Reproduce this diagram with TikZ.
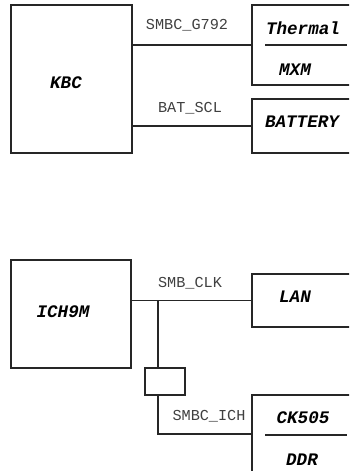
\documentclass[tikz,border=0pt]{standalone}
\usepackage{fontspec}
\setmonofont{Liberation Mono}
\usetikzlibrary{calc}

\tikzset{
  blk/.style={draw=black!85, line width=0.6pt, inner sep=0pt},
  sig/.style={font=\ttfamily\fontsize{7.6}{9}\selectfont, text=black!75, inner sep=0pt},
  lbl/.style={font=\ttfamily\bfseries\itshape\fontsize{8.8}{10}\selectfont, inner sep=0pt},
}

\begin{document}
\begin{tikzpicture}[x=0.5pt, y=-0.5pt, line width=0.6pt, draw=black!85]
  \useasboundingbox (0,0) rectangle (349,471);
  \clip (0,0) rectangle (349,471);
  % bloques superiores
  \node[blk, minimum width=60.5pt, minimum height=74pt] (kbc) at (71.5,79) {};
  \node[blk, minimum width=54pt, minimum height=40pt] (thermal) at (306,45) {};
  \node[blk, minimum width=54pt, minimum height=27pt] (battery) at (306,126) {};
  % bloques inferiores
  \node[blk, minimum width=60pt, minimum height=54pt] (ich) at (71,314) {};
  \node[blk, minimum width=54pt, minimum height=26.5pt] (lan) at (306,300.5) {};
  \node[blk, minimum width=20pt, minimum height=13.5pt] (sw) at (165,381.5) {};
  \node[blk, minimum width=54pt, minimum height=42.5pt] (ck) at (306,437.5) {};
  % textos de los bloques
  \node[lbl] (tkbc) at (66,83) {KBC};
  \node[lbl] (tthermal) at (303,28) {Thermal};
  \node[lbl] (tmxm) at (295,70) {MXM};
  \node[lbl] (tbattery) at (302,122) {BATTERY};
  \node[lbl] (tich) at (63,312) {ICH9M};
  \node[lbl] (tlan) at (295,297) {LAN};
  \node[lbl] (tck) at (303,418) {CK505};
  \node[lbl] (tddr) at (302,460) {DDR};
  % divisiones
  \draw (265,45) -- (347,45);
  \draw (265,435) -- (347,435);
  % buses SMBus
  \draw (kbc.east |- thermal.west) -- (thermal.west);
  \node[sig] (s1) at (187,25) {SMBC\_G792};
  \draw (kbc.east |- battery.west) -- (battery.west);
  \node[sig] (s2) at (190,108) {BAT\_SCL};
  \draw (ich.east |- lan.west) -- (lan.west);
  \node[sig] (s3) at (190,283) {SMB\_CLK};
  \coordinate (j) at (158,300.5);
  \coordinate (k) at (158,434);
  \draw (j) -- (j |- sw.north);
  \draw (j |- sw.south) -- (k) -- (k -| ck.west);
  \node[sig] (s4) at (209,416) {SMBC\_ICH};
\end{tikzpicture}
\end{document}
